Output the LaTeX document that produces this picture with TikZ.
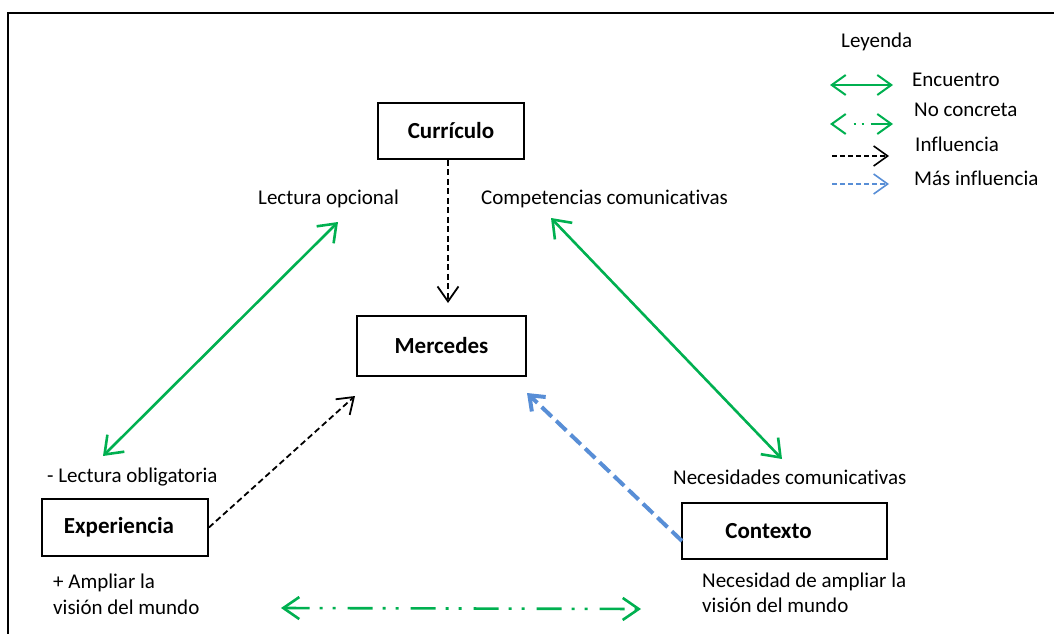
\documentclass[tikz,border=0pt]{standalone}
\usepackage{fontspec}
\setmainfont{Carlito}[Ligatures={NoCommon}]
\usetikzlibrary{arrows.meta}
\definecolor{egreen}{RGB}{0,176,80}
\definecolor{eblue}{RGB}{88,142,214}
\tikzset{
  box/.style={draw, line width=1.8pt, inner sep=0pt, font=\fontsize{23}{28}\selectfont\bfseries},
  lbl/.style={anchor=base west, inner sep=0pt, font=\fontsize{21}{26}\selectfont},
  enc/.style={draw=egreen, line width=2.6pt, {Straight Barb[length=16pt,width=24pt]}-{Straight Barb[length=16pt,width=24pt]}},
  noc/.style={draw=egreen, line width=2.6pt, dash pattern=on 25pt off 10pt on 3pt off 10pt on 3pt off 12pt,
     {Straight Barb[length=16pt,width=22pt]}-{Straight Barb[length=16pt,width=22pt]}},
  infl/.style={draw=black, line width=1.8pt, dash pattern=on 6pt off 3.5pt, -{Straight Barb[length=15pt,width=21pt]}},
  masinfl/.style={draw=eblue, line width=4pt, dash pattern=on 14pt off 6pt, -{Straight Barb[length=13pt,width=20pt]}},
  legenc/.style={draw=egreen, line width=2pt, {Straight Barb[length=14pt,width=20pt]}-{Straight Barb[length=14pt,width=20pt]}},
  legnoc/.style={draw=egreen, line width=2pt, dash pattern=on 0pt off 21pt on 2pt off 6pt on 2pt off 7pt on 20pt, {Straight Barb[length=14pt,width=20pt]}-{Straight Barb[length=14pt,width=20pt]}},
  leginf/.style={draw=black, line width=1.6pt, dash pattern=on 5pt off 3pt, -{Straight Barb[length=14pt,width=20pt]}},
  legmas/.style={draw=eblue, line width=1.6pt, dash pattern=on 5pt off 3pt, -{Straight Barb[length=14pt,width=20pt]}},
}
\begin{document}
\begin{tikzpicture}[x=1pt,y=-1pt]
\useasboundingbox (0,0) rectangle (1054,634);
% frame
\draw[line width=2.6pt] (8,640) -- (8,13) -- (1060,13);

% boxes
\node[box, minimum width=146pt, minimum height=56pt] (cur) at (451,131) {Currículo};
\node[box, minimum width=169pt, minimum height=60pt] (mer) at (441.5,346) {Mercedes};
\node[box, minimum width=166pt, minimum height=57pt] (exp) at (125,527.5) {Experiencia\hspace{12pt}\null};
\node[box, minimum width=205pt, minimum height=56pt] (con) at (784.5,531) {Contexto\hspace{32pt}\null};

% labels
\node[lbl] (lop) at (258,204) {Lectura opcional};
\node[lbl] (cco) at (481,204) {Competencias comunicativas};
\node[lbl] (lob) at (47,482) {- Lectura obligatoria};
\node[lbl] (nco) at (673,484) {Necesidades comunicativas};
\node[lbl] (amp1) at (53,588) {+ Ampliar la};
\node[lbl] (amp2) at (53,614) {visión del mundo};
\node[lbl] (nam1) at (702,587) {Necesidad de ampliar la};
\node[lbl] (nam2) at (702,612) {visión del mundo};

% endpoints
\coordinate (g1a) at (103,456);
\coordinate (g1b) at (338,222);
\coordinate (g2a) at (551,218);
\coordinate (g2b) at (782,459);
\coordinate (ba) at (281,608);
\coordinate (bb) at (641,609);
\coordinate (curtip) at (448,303);
\coordinate (exptip) at (355,396);
\coordinate (contip) at (527,393);
\coordinate (cw) at (682,541);

% connectors
\draw[enc] (g1a) -- (g1b);
\draw[enc] (g2a) -- (g2b);
\draw[noc] (ba) -- (bb);
\draw[infl] (cur.south -| curtip) -- (curtip);
\draw[infl] (exp.east) -- (exptip);
\draw[masinfl] (cw) -- (contip);

% legend
\node[lbl] (ley) at (841,48) {Leyenda};
\node[lbl] (lenc) at (912,86) {Encuentro};
\node[lbl] (lnoc) at (914,116) {No concreta};
\node[lbl] (linf) at (915,151) {Influencia};
\node[lbl] (lmas) at (914,185) {Más influencia};
\coordinate (e1) at (830,85); \coordinate (e2) at (893,85);
\coordinate (n1) at (830,124); \coordinate (n2) at (893,124);
\coordinate (i1) at (832,156); \coordinate (i2) at (889,156);
\coordinate (m1) at (832,184); \coordinate (m2) at (889,184);
\draw[legenc] (e1) -- (e2);
\draw[legnoc] (n1) -- (n2);
\draw[leginf] (i1) -- (i2);
\draw[legmas] (m1) -- (m2);
\end{tikzpicture}
\end{document}
